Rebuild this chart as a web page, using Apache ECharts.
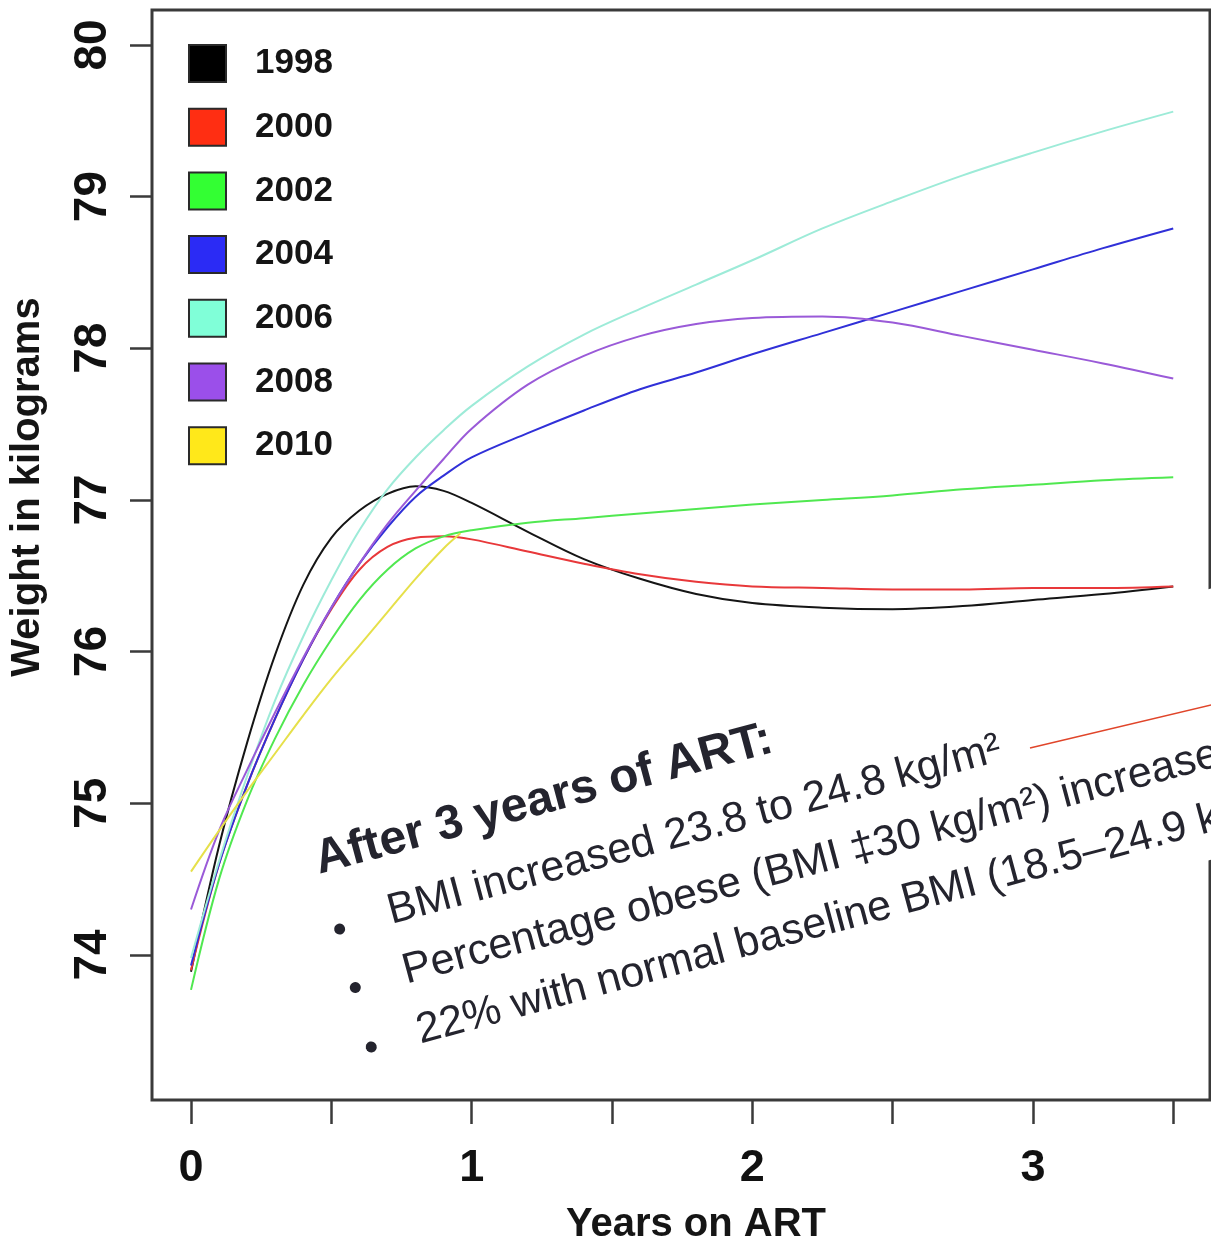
<!DOCTYPE html>
<html>
<head>
<meta charset="utf-8">
<script src="https://cdn.jsdelivr.net/npm/echarts@6/dist/echarts.min.js"></script>
<style>
html,body{margin:0;padding:0;background:#fff;}
#chart{width:1211px;height:1240px;}
</style>
</head>
<body>
<div id="chart"></div>
<script>
// ---- data ----
const years = [0, 0.1, 0.2, 0.3, 0.4, 0.5, 0.6, 0.7, 0.8, 0.9, 1.0, 1.2, 1.4, 1.6, 1.8, 2.0, 2.25, 2.5, 2.75, 3.0, 3.25, 3.5];
const w1998 = [73.89, 74.72, 75.40, 75.98, 76.44, 76.75, 76.93, 77.04, 77.09, 77.06, 76.98, 76.79, 76.61, 76.48, 76.38, 76.32, 76.29, 76.28, 76.30, 76.34, 76.38, 76.43];
const w2000 = [73.90, 74.60, 75.12, 75.56, 75.95, 76.28, 76.54, 76.69, 76.75, 76.76, 76.74, 76.66, 76.58, 76.51, 76.46, 76.43, 76.42, 76.41, 76.41, 76.42, 76.42, 76.43];
const w2002 = [73.77, 74.50, 75.02, 75.43, 75.78, 76.08, 76.34, 76.54, 76.68, 76.76, 76.80, 76.85, 76.88, 76.91, 76.94, 76.97, 77.00, 77.03, 77.07, 77.10, 77.13, 77.15];
const w2004 = [73.93, 74.60, 75.12, 75.56, 75.95, 76.29, 76.58, 76.82, 77.02, 77.16, 77.28, 77.44, 77.59, 77.73, 77.84, 77.96, 78.10, 78.24, 78.38, 78.52, 78.66, 78.79];
const w2006 = [73.98, 74.62, 75.18, 75.68, 76.10, 76.47, 76.80, 77.07, 77.28, 77.46, 77.62, 77.88, 78.09, 78.26, 78.42, 78.58, 78.79, 78.97, 79.14, 79.29, 79.43, 79.56];
const w2008 = [74.30, 74.82, 75.22, 75.60, 75.96, 76.29, 76.58, 76.84, 77.06, 77.27, 77.47, 77.76, 77.95, 78.08, 78.16, 78.20, 78.21, 78.17, 78.08, 77.99, 77.90, 77.80];
const years2010 = [0, 0.1, 0.2, 0.3, 0.4, 0.5, 0.6, 0.7, 0.8, 0.9, 0.96];
const w2010 = [74.55, 74.82, 75.08, 75.33, 75.58, 75.82, 76.04, 76.26, 76.48, 76.68, 76.78];

const cohorts = ['1998', '2000', '2002', '2004', '2006', '2008', '2010'];
const xTicks = [0, 0.5, 1, 1.5, 2, 2.5, 3, 3.5];
const xTickLabels = [0, 1, 2, 3];
const yTicks = [74, 75, 76, 77, 78, 79, 80];

const colors = ['#000000', '#FF2E12', '#33FF33', '#2B2BF5', '#80FFD8', '#9B4FEA', '#FFE81A'];
const lineColors = ['#151515', '#E8383A', '#50E850', '#3030D8', '#9DEBD8', '#9A5AD8', '#E6E04A'];

const FONT = '"Liberation Sans", Arial, Helvetica, sans-serif';

const seriesY = [w1998, w2000, w2002, w2004, w2006, w2008, w2010];
const seriesX = [years, years, years, years, years, years, years2010];

const series = cohorts.map((name, i) => ({
  name: name,
  type: 'line',
  smooth: 0.35,
  showSymbol: false,
  symbol: 'none',
  data: seriesX[i].map((x, j) => [x, seriesY[i][j]]),
  itemStyle: { color: colors[i] },
  lineStyle: { color: lineColors[i], width: 2 },
  z: 2 + i
}));

const chart = echarts.init(document.getElementById('chart'), null, { renderer: 'canvas' });

const textFill = '#24242e';

chart.setOption({
  animation: false,
  backgroundColor: '#ffffff',
  grid: {
    left: 152, top: 10, right: 1, bottom: 140,
    containLabel: false,
    outerBoundsMode: 'none',
    show: true, borderColor: '#3a3a3a', borderWidth: 3, backgroundColor: 'transparent'
  },
  legend: {
    orient: 'vertical',
    left: 183, top: 39,
    icon: 'rect',
    itemWidth: 37, itemHeight: 37, itemGap: 24.7,
    itemStyle: { borderColor: '#2a2a2a', borderWidth: 2 },
    textStyle: { fontFamily: FONT, fontSize: 35, fontWeight: 'bold', color: '#151515', padding: [0, 0, 0, 24] },
    data: cohorts
  },
  xAxis: {
    type: 'value',
    min: -0.139, max: 3.631,
    name: 'Years on ART',
    nameLocation: 'middle',
    nameGap: 105,
    nameTextStyle: { fontFamily: FONT, fontSize: 40, fontWeight: 'bold', color: '#151515', padding: [0, 0, 0, 30] },
    axisLine: { show: false, onZero: false },
    splitLine: { show: false },
    axisTick: { show: true, inside: false, length: 24, lineStyle: { color: '#3a3a3a', width: 2.5 }, customValues: xTicks },
    axisLabel: { customValues: xTickLabels, margin: 46, fontFamily: FONT, fontSize: 45, fontWeight: 'bold', color: '#111' }
  },
  yAxis: {
    type: 'value',
    min: 73.044, max: 80.23,
    name: 'Weight in kilograms',
    nameLocation: 'middle',
    nameRotate: 90,
    nameGap: 104,
    nameTextStyle: { fontFamily: FONT, fontSize: 40, fontWeight: 'bold', color: '#151515', padding: [0, 0, 0, 136] },
    axisLine: { show: false, onZero: false },
    splitLine: { show: false },
    axisTick: { show: true, inside: false, length: 22, lineStyle: { color: '#3a3a3a', width: 2.5 }, customValues: yTicks },
    axisLabel: { customValues: yTicks, rotate: 90, margin: 36, fontFamily: FONT, fontSize: 46, fontWeight: 'bold', color: '#111' }
  },
  series: series,
  graphic: [
    {
      type: 'group',
      x: 320, y: 877,
      rotation: 15 * Math.PI / 180,
      z: 100,
      children: [
        { type: 'rect', shape: { x: -25, y: -48, width: 1100, height: 262 }, style: { fill: '#ffffff' } },
        { type: 'text', x: 0, y: -16.6, style: { text: 'After 3 years of ART:', font: 'bold 48px ' + FONT, fill: textFill, verticalAlign: 'middle', align: 'left' } },
        { type: 'circle', shape: { cx: 5.5, cy: 55.4, r: 5.5 }, style: { fill: textFill } },
        { type: 'circle', shape: { cx: 5.5, cy: 115.9, r: 5.5 }, style: { fill: textFill } },
        { type: 'circle', shape: { cx: 5.5, cy: 177.4, r: 5.5 }, style: { fill: textFill } },
        { type: 'text', x: 57, y: 67 - 14.9, style: { text: 'BMI increased 23.8 to 24.8 kg/m²', font: '43px ' + FONT, fill: textFill, verticalAlign: 'middle', align: 'left' } },
        { type: 'text', x: 56, y: 128.5 - 14.9, style: { text: 'Percentage obese (BMI ‡30 kg/m²) increase', font: '43px ' + FONT, fill: textFill, verticalAlign: 'middle', align: 'left' } },
        { type: 'text', x: 54, y: 190 - 14.9, style: { text: '22% with normal baseline BMI (18.5–24.9 k', font: '43px ' + FONT, fill: textFill, verticalAlign: 'middle', align: 'left' } }
      ]
    },
    {
      type: 'line', z: 101,
      shape: { x1: 1030, y1: 748, x2: 1215, y2: 704 },
      style: { stroke: '#E0452A', lineWidth: 1.6 }
    }
  ]
});
</script>
</body>
</html>
